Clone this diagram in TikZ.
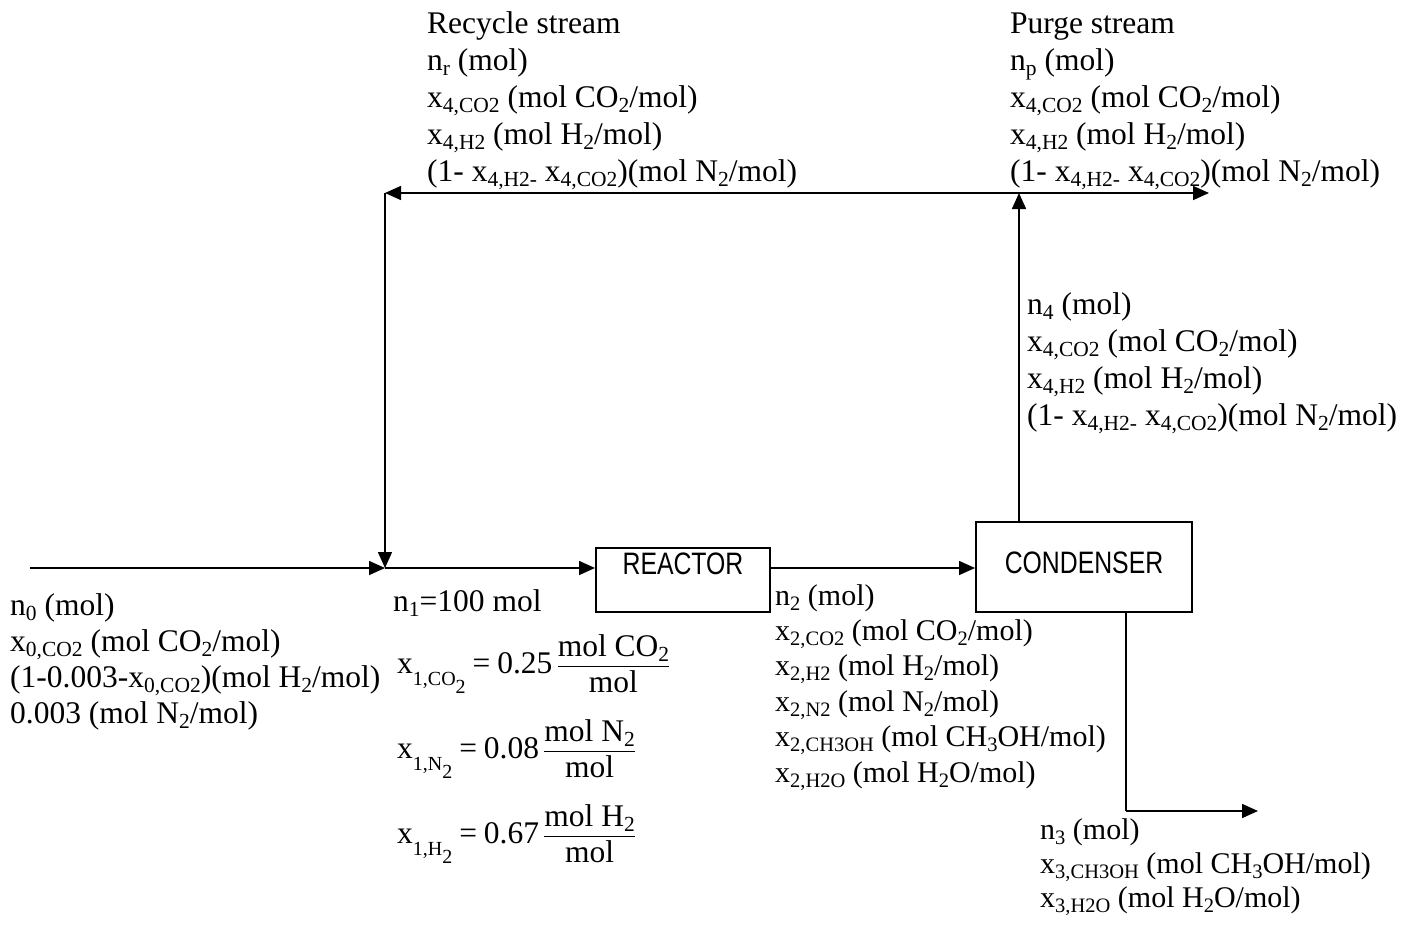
\documentclass[tikz,border=0pt]{standalone}
\usepackage{amsmath}
\usepackage{fontspec}
\setmainfont{Liberation Serif}
\newfontfamily\boxfont[FakeStretch=0.8]{Liberation Sans}
\usetikzlibrary{arrows.meta}
% size of the lowered indices; the label styles set it
\newcommand\subsz{21.5}
% lowered small index, as in x_{4,CO2}
\newcommand\dn[1]{\raisebox{-5pt}{\fontsize{\subsz}{\subsz}\selectfont #1}}
% index of a mole fraction in the feed equations, with its own lowered 2
\newcommand\eqidx[1]{\raisebox{-12pt}{\fontsize{20}{20}\selectfont 1,#1\raisebox{-8pt}{2}}}
% stacked text lines with a fixed baseline distance
\newcommand\textblock[2]{\vtop{\baselineskip=#1\lineskiplimit=-60pt\relax #2}}
\begin{document}
\begin{tikzpicture}[x=1pt,y=-1pt,
  lbl/.style={anchor=base west, inner sep=0pt, font=\fontsize{31.5}{37}\selectfont\renewcommand\subsz{21.5}},
  lblsmall/.style={lbl, font=\fontsize{30}{35}\selectfont\renewcommand\subsz{20.5}},
  unit/.style={draw, line width=2pt, inner sep=0pt},
  unitlbl/.style={inner sep=0pt, font=\boxfont\fontsize{31}{31}\selectfont},
  flow/.style={line width=1.6pt, -{Triangle[length=16pt,width=14pt]}},
  pipe/.style={line width=1.6pt}]
\path[use as bounding box] (0,0) rectangle (1414,924);

% process units
\node[unit, minimum width=174pt, minimum height=64pt] (reactor) at (683,580) {};
\node[unitlbl] (reactorlbl) at (683,564) {REACTOR};
\node[unit, minimum width=216pt, minimum height=90pt] (cond) at (1084,567) {};
\node[unitlbl] (condlbl) at (1084,563) {CONDENSER};

% stream points
\coordinate (feed) at (30,568);
\coordinate (mix) at (385,568);
\coordinate (rtop) at (385,193);
\coordinate (split) at (1019,193);
\coordinate (purge) at (1209,193);
\coordinate (liqbend) at (1126,811);
\coordinate (liqout) at (1258,811);

% streams
\draw[flow] (feed) -- (mix);
\draw[flow] (rtop) -- (mix);
\draw[flow] (mix) -- (mix -| reactor.west);
\draw[flow] (reactor.east |- mix) -- (cond.west |- mix);
\draw[flow] (cond.north -| split) -- (split);
\draw[flow] (split) -- (rtop);
\draw[flow] (split) -- (purge);
\draw[pipe] (cond.south -| liqbend) -- (liqbend);
\draw[flow] (liqbend) -- (liqout);

% stream labels
\node[lbl] (recycle) at (427,33) {\textblock{37.2pt}{%
  \hbox{Recycle stream}
  \hbox{n\dn{r} (mol)}
  \hbox{x\dn{4,CO2} (mol CO\dn{2}/mol)}
  \hbox{x\dn{4,H2} (mol H\dn{2}/mol)}
  \hbox{(1- x\dn{4,H2-} x\dn{4,CO2})(mol N\dn{2}/mol)}}};

\node[lbl] (purgelbl) at (1010,33) {\textblock{37.2pt}{%
  \hbox{Purge stream}
  \hbox{n\dn{p} (mol)}
  \hbox{x\dn{4,CO2} (mol CO\dn{2}/mol)}
  \hbox{x\dn{4,H2} (mol H\dn{2}/mol)}
  \hbox{(1- x\dn{4,H2-} x\dn{4,CO2})(mol N\dn{2}/mol)}}};

\node[lbl] (n4lbl) at (1027,314) {\textblock{37pt}{%
  \hbox{n\dn{4} (mol)}
  \hbox{x\dn{4,CO2} (mol CO\dn{2}/mol)}
  \hbox{x\dn{4,H2} (mol H\dn{2}/mol)}
  \hbox{(1- x\dn{4,H2-} x\dn{4,CO2})(mol N\dn{2}/mol)}}};

\node[lbl] (n0lbl) at (10,615) {\textblock{36pt}{%
  \hbox{n\dn{0} (mol)}
  \hbox{x\dn{0,CO2} (mol CO\dn{2}/mol)}
  \hbox{(1-0.003-x\dn{0,CO2})(mol H\dn{2}/mol)}
  \hbox{0.003 (mol N\dn{2}/mol)}}};

\node[lbl] (n1lbl) at (393,611) {n\dn{1}=100 mol};

\node[lbl] (eqco2) at (397,673) {$\text{x}\eqidx{CO}\mathrel{\text{=}}\text{0.25}\,\dfrac{\text{mol CO\dn{2}}}{\text{mol}}$};
\node[lbl] (eqn2) at (397,758) {$\text{x}\eqidx{N}\mathrel{\text{=}}\text{0.08}\,\dfrac{\text{mol N\dn{2}}}{\text{mol}}$};
\node[lbl] (eqh2) at (397,843) {$\text{x}\eqidx{H}\mathrel{\text{=}}\text{0.67}\,\dfrac{\text{mol H\dn{2}}}{\text{mol}}$};

\node[lblsmall] (n2lbl) at (775,605) {\textblock{35.4pt}{%
  \hbox{n\dn{2} (mol)}
  \hbox{x\dn{2,CO2} (mol CO\dn{2}/mol)}
  \hbox{x\dn{2,H2} (mol H\dn{2}/mol)}
  \hbox{x\dn{2,N2} (mol N\dn{2}/mol)}
  \hbox{x\dn{2,CH3OH} (mol CH\dn{3}OH/mol)}
  \hbox{x\dn{2,H2O} (mol H\dn{2}O/mol)}}};

\node[lblsmall] (n3lbl) at (1040,839) {\textblock{34pt}{%
  \hbox{n\dn{3} (mol)}
  \hbox{x\dn{3,CH3OH} (mol CH\dn{3}OH/mol)}
  \hbox{x\dn{3,H2O} (mol H\dn{2}O/mol)}}};
\end{tikzpicture}
\end{document}
